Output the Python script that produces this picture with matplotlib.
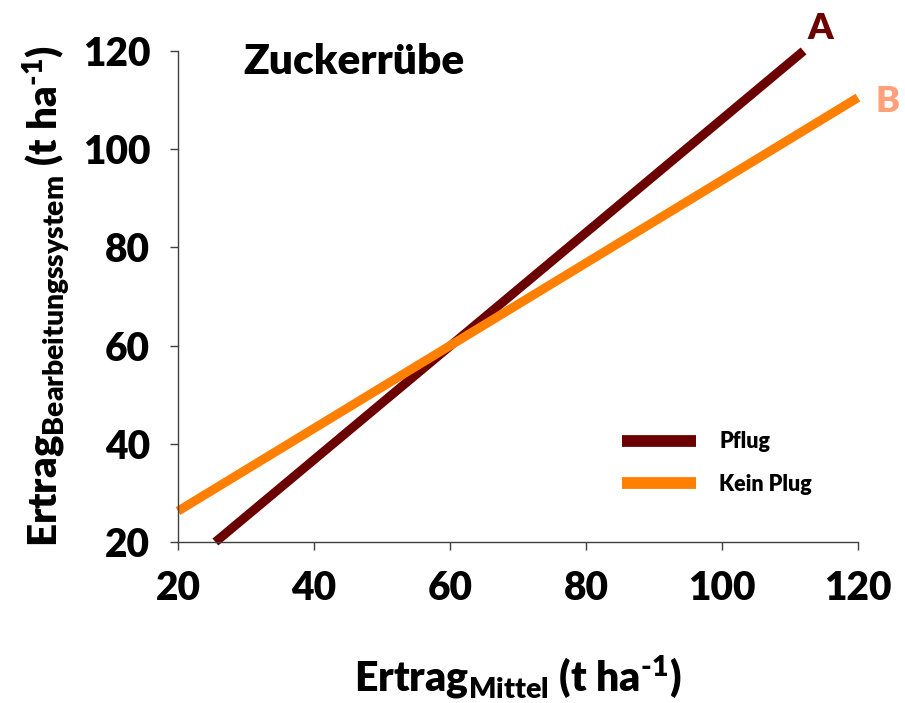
import matplotlib
matplotlib.use("Agg")
import matplotlib.pyplot as plt

# Daten
pflug_x = [25.5, 112]
pflug_y = [20, 120]
kein_x = [20, 120]
kein_y = [26.3, 110.5]
ticks = [20, 40, 60, 80, 100, 120]

dunkelrot = "#6B0000"
orange = "#FF8000"
lachs = "#FFA07A"

plt.rcParams["font.family"] = ["Lato", "DejaVu Sans"]
plt.rcParams["font.weight"] = "heavy"
plt.rcParams["mathtext.fontset"] = "custom"
plt.rcParams["mathtext.rm"] = "Lato:heavy"
plt.rcParams["mathtext.it"] = "Lato:heavy"
plt.rcParams["mathtext.bf"] = "Lato:heavy"

fig = plt.figure(figsize=(9.05, 7.03), dpi=100)
ax = fig.add_axes([0.1967, 0.229, 0.7513, 0.6985])

ax.plot(pflug_x, pflug_y, color=dunkelrot, lw=6.5, solid_capstyle="butt",
        clip_on=False, label="Pflug")
ax.plot(kein_x, kein_y, color=orange, lw=6.5, solid_capstyle="butt",
        clip_on=False, label="Kein Plug")

ax.set_xlim(20, 120)
ax.set_ylim(20, 120)
ax.set_xticks(ticks)
ax.set_yticks(ticks)
ax.tick_params(labelsize=28, length=6, width=1, color="#404040", pad=14)
for s in ["top", "right"]:
    ax.spines[s].set_visible(False)
for s in ["left", "bottom"]:
    ax.spines[s].set_color("#404040")
    ax.spines[s].set_linewidth(1)

hoch = "$^{\\mathrm{\u20101}}$"
ax.set_xlabel(r"Ertrag$_{\mathrm{Mittel}}$ (t ha" + hoch + ")", fontsize=29.5,
              fontweight="heavy", labelpad=34)
ax.set_ylabel(r"Ertrag$_{\mathrm{Bearbeitungssystem}}$ (t ha" + hoch + ")",
              fontsize=29, fontweight="heavy", labelpad=8)

ax.text(29.6, 117.7, "Zuckerrübe", fontsize=30.5, fontweight="heavy", va="center")
ax.text(114.4, 124.5, "A", fontsize=26, fontweight="heavy", color=dunkelrot,
        ha="center", va="center", clip_on=False)
ax.text(124.4, 109.8, "B", fontsize=26, fontweight="heavy", color=lachs,
        ha="center", va="center", clip_on=False)

leg = ax.legend(loc="upper left", bbox_to_anchor=(0.625, 0.265), frameon=False,
                prop={"size": 15.5, "weight": "heavy"}, handlelength=3.4,
                handletextpad=1.1, labelspacing=1.0)
for l in leg.get_lines():
    l.set_linewidth(8.5)

fig.savefig("out.png", dpi=100)
